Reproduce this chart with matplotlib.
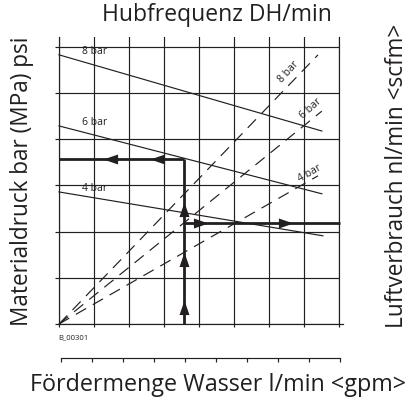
import matplotlib
matplotlib.use('Agg')
import matplotlib.pyplot as plt
from matplotlib.path import Path
import numpy as np

plt.rcParams['font.family'] = ['Open Sans', 'DejaVu Sans']
plt.rcParams['lines.scale_dashes'] = False

INK = '#231f20'

# ---- data (grid units: x = water flow columns, y = pressure rows) ----
bar_labels = ['8 bar', '6 bar', '4 bar']
# material pressure lines (solid): start / end points
pressure_x = [[0, 7.51], [0, 7.51], [0, 7.54]]
pressure_y = [[5.83, 4.18], [4.29, 2.82], [2.86, 1.91]]
# air consumption lines (dashed), from origin
air_x = [[0, 7.40], [0, 7.51], [0, 7.40]]
air_y = [[0, 5.83], [0, 4.61], [0, 3.21]]
# example reading
flow_read = 3.57
pressure_read = 3.57
air_read = 2.19

W, H = 414, 398
fig = plt.figure(figsize=(W / 100, H / 100), dpi=100)

def fx(px):
    return px / W

def fy(py):
    return 1 - py / H

ax = fig.add_axes([fx(59), fy(324), 280 / W, (324 - 37) / H])
ax.set_xlim(0, 8)
ax.set_ylim(0, 287 / 46.17)
ax.set_xticks(range(9))
ax.set_yticks(range(7))
ax.grid(True, color=INK, lw=0.85)
ax.tick_params(axis='x', direction='out', length=2.5, width=0.85, color=INK,
               labelbottom=False)
ax.tick_params(axis='y', direction='out', length=3, width=0.85, color=INK,
               labelleft=False)
for s in ['left', 'right', 'bottom']:
    ax.spines[s].set_color(INK)
    ax.spines[s].set_linewidth(0.85)
ax.spines['top'].set_visible(False)
ax.plot([8, 8.115], [0, 0], color=INK, lw=0.85, clip_on=False)

# pressure lines
for xs, ys in zip(pressure_x, pressure_y):
    ax.plot(xs, ys, color=INK, lw=0.85, clip_on=False)
# air lines
for xs, ys in zip(air_x, air_y):
    ax.plot(xs, ys, color=INK, lw=0.85, dashes=(8.5, 5.5), clip_on=False)

# labels on pressure lines
for lab, ys in zip(bar_labels, pressure_y):
    ax.text(1.03, ys[0] + 0.08, lab, fontsize=7.5, color=INK,
            ha='center', va='center')
# labels on air lines
air_lab_pos = [(6.57, 5.46, 48), (7.2, 4.66, 42), (7.17, 3.25, 30)]
for lab, (tx, ty, rot) in zip(bar_labels, air_lab_pos):
    ax.text(tx, ty, lab, fontsize=7.5, color=INK, rotation=rot,
            ha='center', va='center', rotation_mode='anchor')

# reading path (thick)
TH = 2.0
ax.plot([flow_read, flow_read], [0, pressure_read], color=INK, lw=TH,
        solid_capstyle='butt')
ax.plot([flow_read, 0], [pressure_read, pressure_read], color=INK, lw=TH,
        solid_capstyle='butt')
ax.plot([flow_read, 8.03], [air_read, air_read], color=INK, lw=TH,
        solid_capstyle='butt', clip_on=False)

head = Path([(0, 0), (-1.6, 0.55), (-1.6, -0.55), (0, 0)],
            [Path.MOVETO, Path.LINETO, Path.LINETO, Path.CLOSEPOLY])

def arrow(x, y, angle):
    m = head.transformed(matplotlib.transforms.Affine2D().rotate_deg(angle))
    ax.plot([x], [y], marker=m, markersize=21, color=INK, mec=INK, mew=0)

for ty in [0.52, 1.56, 2.64]:
    arrow(flow_read, ty, 90)
for tx in [1.26, 2.6]:
    arrow(tx, pressure_read, 180)
for tx in [4.26, 6.69]:
    arrow(tx, air_read, 0)

# second (bottom) scale
ax2 = fig.add_axes([fx(61), fy(358), (340 - 61) / W, 0.0001])
ax2.set_xlim(0, 9)
ax2.set_xticks(range(10))
ax2.tick_params(axis='x', direction='out', length=3, width=0.85, color=INK,
                labelbottom=False)
ax2.set_yticks([])
for s in ['left', 'right', 'top']:
    ax2.spines[s].set_visible(False)
ax2.spines['bottom'].set_color(INK)
ax2.spines['bottom'].set_linewidth(0.85)
ax2.patch.set_visible(False)

# texts
fig.text(fx(217), fy(15), 'Hubfrequenz DH/min', fontsize=16.5, color=INK,
         ha='center', va='center')
fig.text(fx(218), fy(385), 'Fördermenge Wasser l/min <gpm>', fontsize=16.8,
         color=INK, ha='center', va='center')
fig.text(fx(22), fy(181), 'Materialdruck bar (MPa) psi', fontsize=16.3,
         color=INK, ha='center', va='center', rotation=90)
fig.text(fx(397), fy(176), 'Luftverbrauch nl/min <scfm>', fontsize=16.3,
         color=INK, ha='center', va='center', rotation=90)
fig.text(fx(58), fy(338), 'B_00301', fontsize=5.5, color=INK, ha='left',
         va='center')

fig.savefig('out.png', dpi=100)
